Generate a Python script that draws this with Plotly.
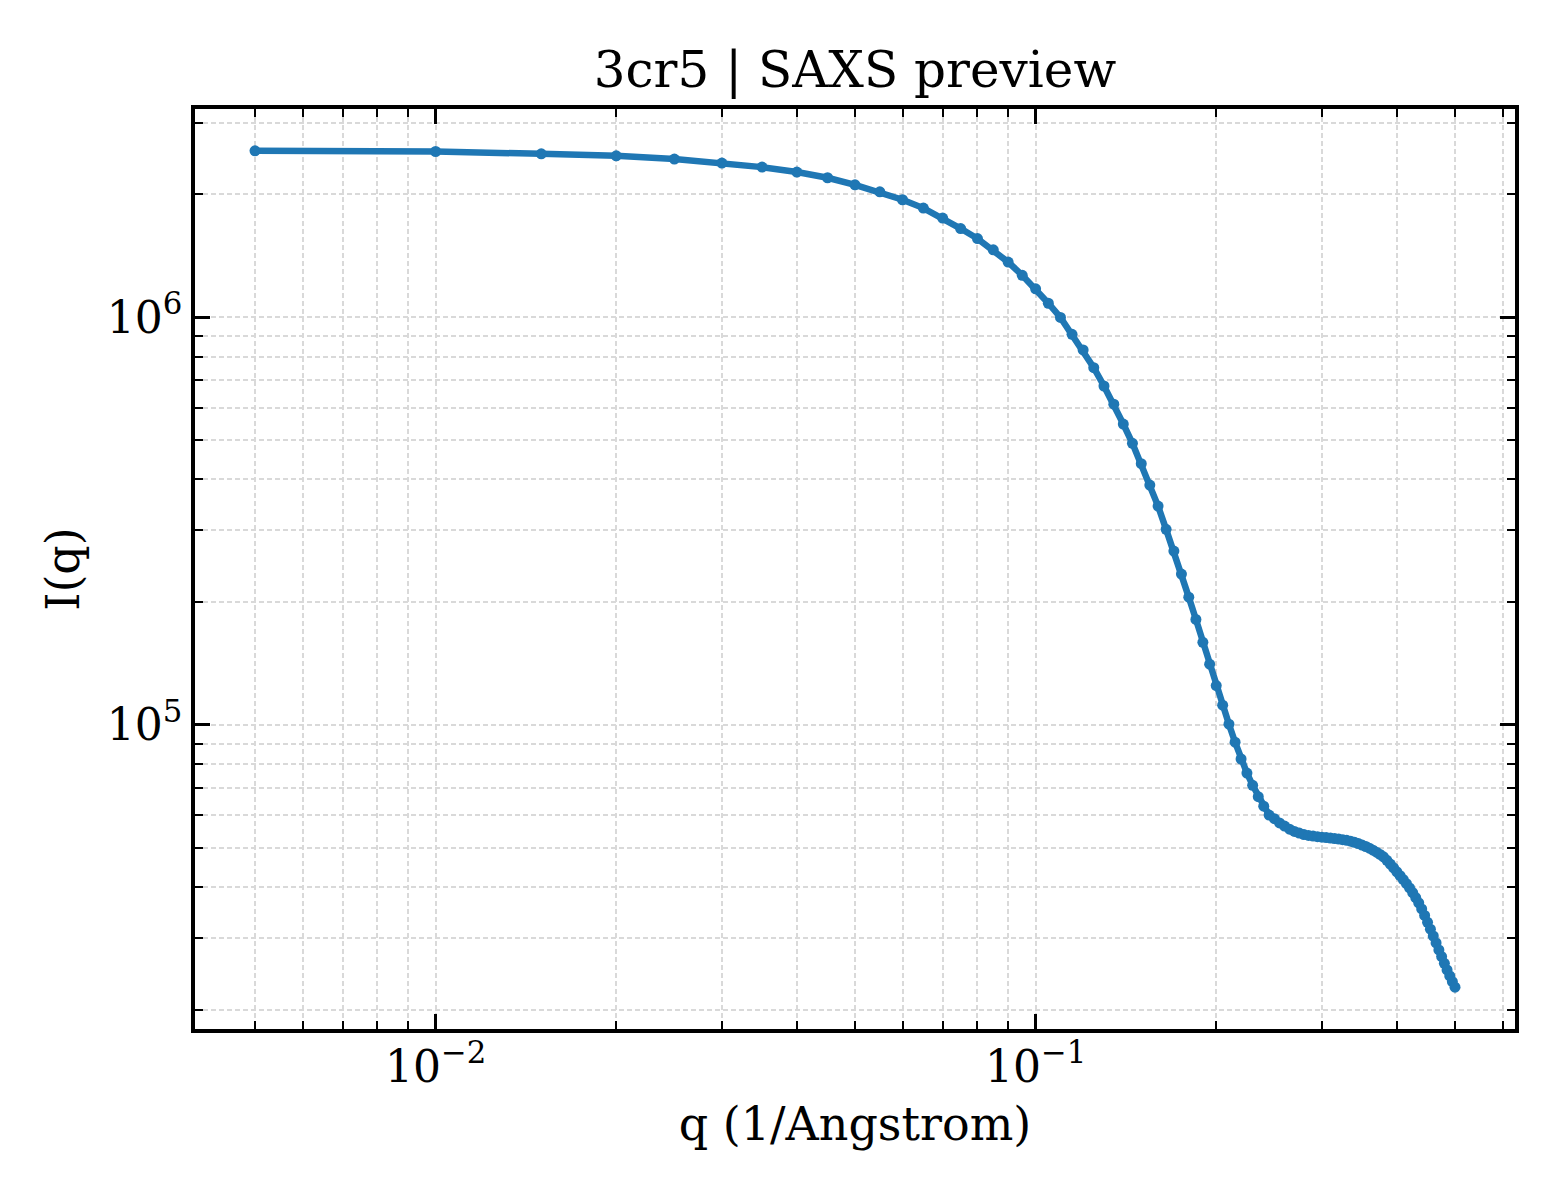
import numpy as np
import plotly.graph_objects as go

# ---- data ----
q_values = [
    0.005, 0.010, 0.015, 0.020, 0.025, 0.030, 0.035, 0.040, 0.045, 0.050,
    0.055, 0.060, 0.065, 0.070, 0.075, 0.080, 0.085, 0.090, 0.095, 0.100,
    0.105, 0.110, 0.115, 0.120, 0.125, 0.130, 0.135, 0.140, 0.145, 0.150,
    0.155, 0.160, 0.165, 0.170, 0.175, 0.180, 0.185, 0.190, 0.195, 0.200,
    0.205, 0.210, 0.215, 0.220, 0.225, 0.230, 0.235, 0.240, 0.245, 0.250,
    0.255, 0.260, 0.265, 0.270, 0.275, 0.280, 0.285, 0.290, 0.295, 0.300,
    0.305, 0.310, 0.315, 0.320, 0.325, 0.330, 0.335, 0.340, 0.345, 0.350,
    0.355, 0.360, 0.365, 0.370, 0.375, 0.380, 0.385, 0.390, 0.395, 0.400,
    0.405, 0.410, 0.415, 0.420, 0.425, 0.430, 0.435, 0.440, 0.445, 0.450,
    0.455, 0.460, 0.465, 0.470, 0.475, 0.480, 0.485, 0.490, 0.495, 0.500,
]

intensity = [
    2.559e6, 2.549e6, 2.516e6, 2.488e6, 2.442e6, 2.388e6, 2.334e6, 2.270e6, 2.198e6, 2.112e6,
    2.030e6, 1.941e6, 1.852e6, 1.750e6, 1.650e6, 1.559e6, 1.463e6, 1.365e6, 1.267e6, 1.174e6,
    1.082e6, 9.99e5, 9.08e5, 8.31e5, 7.52e5, 6.78e5, 6.12e5, 5.47e5, 4.906e5, 4.372e5,
    3.876e5, 3.441e5, 3.018e5, 2.670e5, 2.344e5, 2.058e5, 1.815e5, 1.594e5, 1.409e5, 1.249e5,
    1.118e5, 1.004e5, 9.07e4, 8.25e4, 7.62e4, 7.11e4, 6.67e4, 6.32e4, 6.01e4, 5.89e4,
    5.75e4, 5.65e4, 5.55e4, 5.48e4, 5.43e4, 5.385e4, 5.358e4, 5.337e4, 5.319e4, 5.304e4,
    5.292e4, 5.280e4, 5.265e4, 5.250e4, 5.232e4, 5.212e4, 5.186e4, 5.154e4, 5.116e4, 5.075e4,
    5.033e4, 4.985e4, 4.931e4, 4.873e4, 4.813e4, 4.748e4, 4.655e4, 4.558e4, 4.462e4, 4.362e4,
    4.269e4, 4.176e4, 4.080e4, 3.984e4, 3.880e4, 3.772e4, 3.661e4, 3.538e4, 3.411e4, 3.279e4,
    3.155e4, 3.036e4, 2.920e4, 2.807e4, 2.703e4, 2.602e4, 2.507e4, 2.423e4, 2.346e4, 2.274e4,
]

x_major_ticks = [0.01, 0.1]
x_major_labels = ["10<sup>−2</sup>", "10<sup>−1</sup>"]
x_minor_ticks = [0.005, 0.006, 0.007, 0.008, 0.009,
                 0.02, 0.03, 0.04, 0.05, 0.06, 0.07, 0.08, 0.09,
                 0.2, 0.3, 0.4, 0.5, 0.6]

y_major_ticks = [1e5, 1e6]
y_major_labels = ["10<sup>5</sup>", "10<sup>6</sup>"]
y_minor_ticks = [2e4, 3e4, 4e4, 5e4, 6e4, 7e4, 8e4, 9e4,
                 2e5, 3e5, 4e5, 5e5, 6e5, 7e5, 8e5, 9e5,
                 2e6, 3e6]

title_text = "3cr5 | SAXS preview"
x_title = "q (1/Angstrom)"
y_title = "I(q)"

# ---- styling ----
FONT = "DejaVu Serif"
BLUE = "#1f77b4"
GRID = "#d9d9d9"


def padded_log_range(values, frac=0.05):
    lv = np.log10(np.asarray(values, dtype=float))
    lo, hi = lv.min(), lv.max()
    pad = (hi - lo) * frac
    return [lo - pad, hi + pad]


fig = go.Figure()
fig.add_trace(go.Scatter(
    x=q_values, y=intensity,
    mode="lines+markers",
    line=dict(color=BLUE, width=6.5),
    marker=dict(color=BLUE, size=11),
    showlegend=False,
))

axis_common = dict(
    type="log",
    showline=True, linecolor="black", linewidth=3.5,
    mirror="allticks",
    ticks="inside", ticklen=15, tickwidth=3, tickcolor="black",
    showgrid=True, gridcolor=GRID, gridwidth=1.8, griddash="5px,3px",
    zeroline=False,
    tickfont=dict(family=FONT, size=44, color="black"),
    tickmode="array",
)

fig.update_xaxes(
    **axis_common,
    range=padded_log_range(q_values),
    tickvals=x_major_ticks, ticktext=x_major_labels,
    ticklabelstandoff=-4,
    minor=dict(tickmode="array", tickvals=x_minor_ticks, ticks="inside",
               ticklen=8, tickwidth=2.2, tickcolor="black",
               showgrid=True, gridcolor=GRID, gridwidth=1.8, griddash="5px,3px"),
    title=dict(text=x_title, font=dict(family=FONT, size=46, color="black"), standoff=18),
)
fig.update_yaxes(
    **axis_common,
    range=padded_log_range(intensity),
    tickvals=y_major_ticks, ticktext=y_major_labels,
    minor=dict(tickmode="array", tickvals=y_minor_ticks, ticks="inside",
               ticklen=8, tickwidth=2.2, tickcolor="black",
               showgrid=True, gridcolor=GRID, gridwidth=1.8, griddash="5px,3px"),
    title=dict(text=y_title, font=dict(family=FONT, size=46, color="black"), standoff=14),
)

# the page body adds an 8px offset, so margins are compensated for it
fig.update_layout(
    width=1560, height=1200,
    margin=dict(l=187, r=53, t=101, b=179, autoexpand=False),
    paper_bgcolor="white", plot_bgcolor="white",
    title=dict(text=title_text, font=dict(family=FONT, size=50, color="black"),
               x=0.5, xref="paper", xanchor="center",
               y=1 - 61 / 1200, yref="container", yanchor="middle"),
    font=dict(family=FONT, color="black"),
)

fig.write_html("out.html")
